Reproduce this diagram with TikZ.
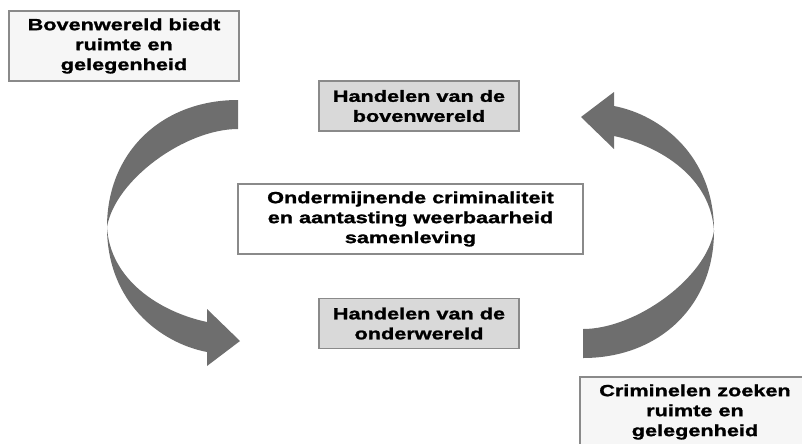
\documentclass[tikz,border=0pt]{standalone}
\usepackage{fontspec}
\setmainfont{Liberation Sans}[FakeStretch=1.34,BoldFeatures={FakeBold=1.4}]
\usepackage{xcolor}
\usepackage{tikz}
\definecolor{CycleArrow}{HTML}{6E6E6E}
\definecolor{CycleLine}{HTML}{8A8A8A}
\definecolor{CycleGrey}{HTML}{D9D9D9}
\definecolor{CycleNote}{HTML}{F6F6F6}

\begin{document}
\begin{tikzpicture}[x=0.025cm,y=-0.025cm,
  box/.style={draw=CycleLine,line width=1.1pt,inner sep=0pt,align=center,
    font=\bfseries\fontsize{11.5}{14.2}\selectfont},
  notebox/.style={box,fill=CycleNote,minimum width=5.75cm,minimum height=1.75cm},
  actbox/.style={box,fill=CycleGrey,minimum width=5cm,minimum height=1.25cm},
  corebox/.style={box,fill=white,minimum width=8.625cm,minimum height=1.75cm}]
\path[use as bounding box] (0,0) rectangle (802,443);
\clip (0,0) rectangle (802,443);
% the two bent arrows, the second one turned half round
\foreach \turn in {0,180}{
  \fill[CycleArrow,rotate around={\turn:(410.5,229)}]
    (238,100) .. controls (162,100) and (107,152) .. (107,227)
    .. controls (107,302) and (160,343) .. (207,352)
    -- (207,366) -- (240,341) -- (207,309) -- (207,322)
    .. controls (160,312) and (110,280) .. (107,227)
    .. controls (115,180) and (185,129) .. (238,129) -- cycle;
}
\node[notebox] (boven) at (124,46) {Bovenwereld biedt\\ruimte en\\gelegenheid};
\node[actbox] (hboven) at (419,106) {Handelen van de\\bovenwereld};
\node[corebox] (kern) at (410.5,219) {Ondermijnende criminaliteit\\en aantasting weerbaarheid\\samenleving};
\node[actbox] (honder) at (419,323.5) {Handelen van de\\onderwereld};
\node[notebox] (crim) at (695,412) {Criminelen zoeken\\ruimte en\\gelegenheid};
\end{tikzpicture}
\end{document}
